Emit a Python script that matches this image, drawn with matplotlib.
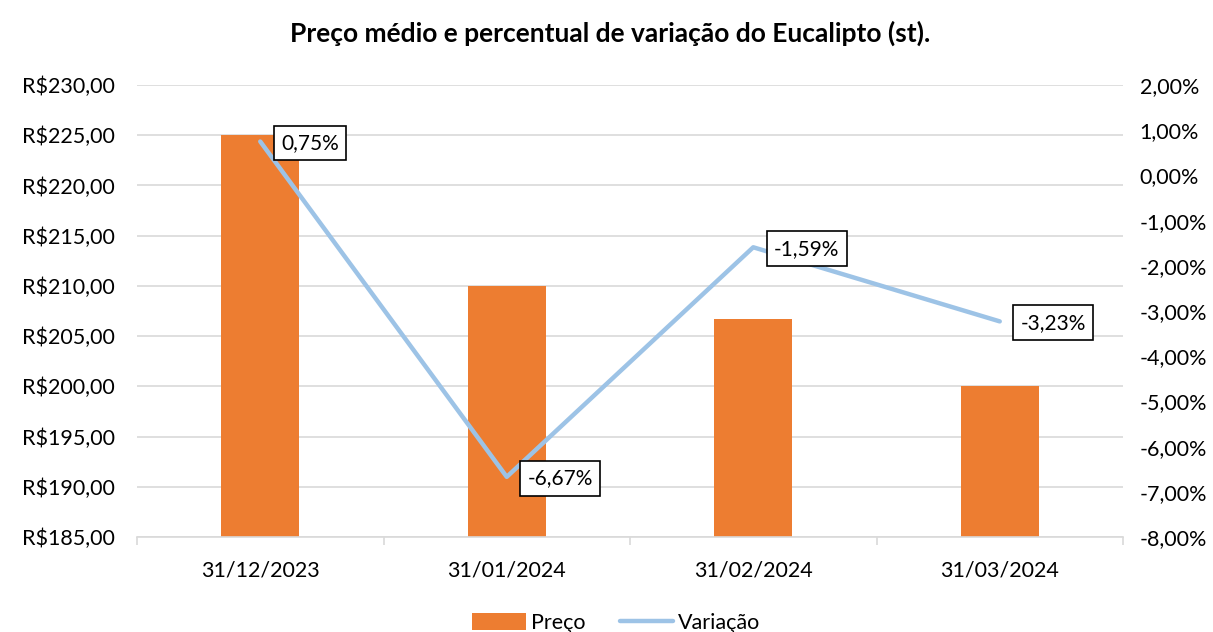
import matplotlib
matplotlib.use("Agg")
import matplotlib.pyplot as plt
from matplotlib.ticker import FuncFormatter, MultipleLocator, FixedLocator
import numpy as np

categories = ["31/12/2023", "31/01/2024", "31/02/2024", "31/03/2024"]
preco = [225.00, 210.00, 206.67, 200.00]
variacao = [0.75, -6.67, -1.59, -3.23]  # percent
variacao_labels = ["0,75%", "-6,67%", "-1,59%", "-3,23%"]

plt.rcParams['font.family'] = ['Lato', 'DejaVu Sans']

fig = plt.figure(figsize=(12.13, 6.32), dpi=100)
ax = fig.add_axes([137/1213, (632-537)/632, (1123-137)/1213, (537-85)/632])
x = np.arange(len(categories))

bar_color = "#ED7D31"
line_color = "#9DC3E6"
grid_color = "#D9D9D9"

bars = ax.bar(x, preco, width=0.316, color=bar_color, zorder=2, label="Preço")
ax.set_ylim(185, 230)
ax.set_xlim(-0.5, len(categories) - 0.5)
ax.yaxis.set_major_locator(MultipleLocator(5))
ax.yaxis.set_major_formatter(FuncFormatter(lambda v, p: "R$" + f"{v:.2f}".replace(".", ",")))
ax.grid(axis="y", color=grid_color, linewidth=1.2, zorder=0)
ax.set_axisbelow(True)
for s in ["top", "right", "left"]:
    ax.spines[s].set_visible(False)
ax.spines["bottom"].set_color(grid_color)
ax.spines["bottom"].set_linewidth(1.2)
ax.tick_params(axis="y", length=0, labelsize=15.5, pad=16)
ax.set_xticks(x)
ax.set_xticklabels(categories)
ax.tick_params(axis="x", length=0, labelsize=15.5, pad=17)
ax.xaxis.set_minor_locator(FixedLocator(np.arange(-0.5, len(categories), 1.0)))
ax.tick_params(axis="x", which="minor", length=6, color=grid_color, width=1.2)

ax2 = ax.twinx()
line, = ax2.plot(x, variacao, color=line_color, linewidth=3.2, zorder=3, label="Variação",
                 solid_capstyle="round")
ax2.set_ylim(-8, 2)
ax2.yaxis.set_major_locator(MultipleLocator(1))
ax2.yaxis.set_major_formatter(FuncFormatter(lambda v, p: f"{v:.2f}".replace(".", ",") + "%"))
for s in ["top", "right", "left", "bottom"]:
    ax2.spines[s].set_visible(False)
ax2.tick_params(axis="y", length=0, labelsize=15.5, pad=12)

for xi, yi, lab in zip(x, variacao, variacao_labels):
    ax2.annotate(lab, (xi, yi), xytext=(15, -1), textcoords="offset points",
                 ha="left", va="center", fontsize=15, zorder=5,
                 bbox=dict(boxstyle="square,pad=0.35", fc="white", ec="black", lw=1.2))

fig.suptitle("Preço médio e percentual de variação do Eucalipto (st).", fontsize=19,
             fontweight="bold", y=0.968, x=0.503)

fig.legend([bars, line], ["Preço", "Variação"], loc="lower center", ncol=2,
           bbox_to_anchor=(0.508, -0.032), frameon=False, fontsize=15.5,
           handlelength=2.5, handleheight=0.8, columnspacing=1.6, handletextpad=0.2)

fig.savefig("out.png", dpi=100)
